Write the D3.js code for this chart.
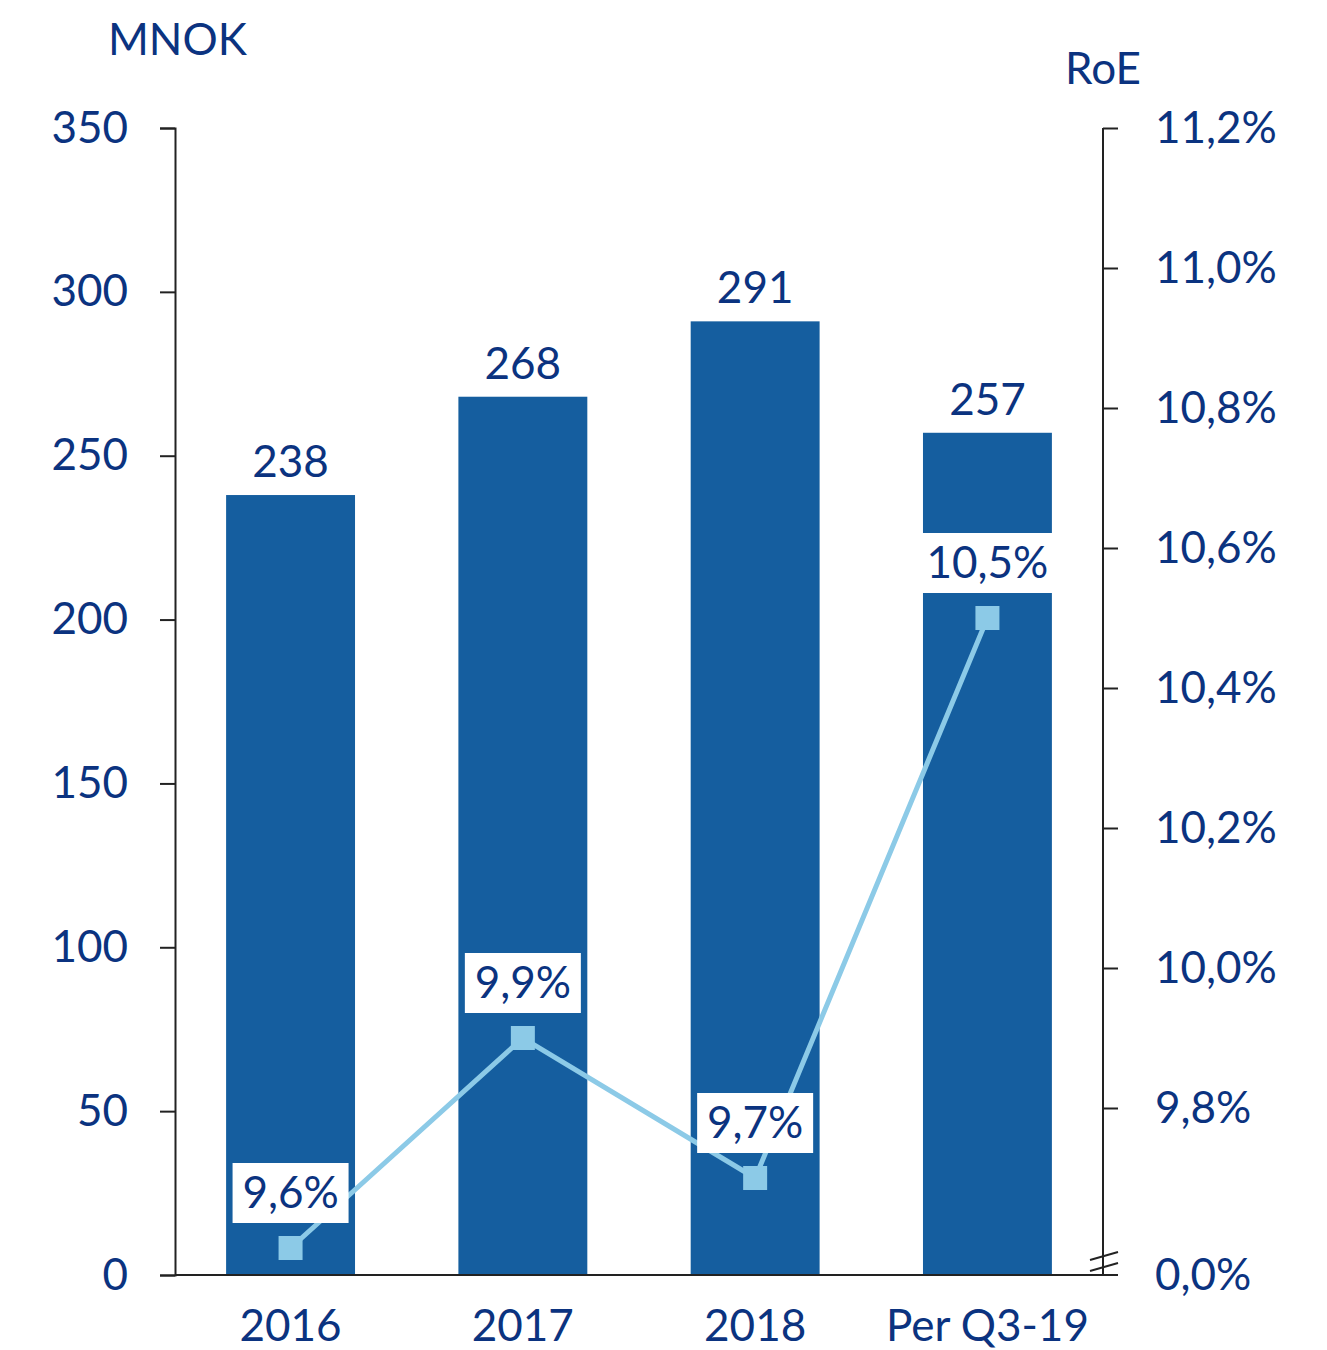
<!DOCTYPE html>
<html>
<head>
<meta charset="utf-8">
<script src="https://cdn.jsdelivr.net/npm/d3@7"></script>
<style>
  body { margin: 0; background: #fff; }
  text { font-family: Lato, "Open Sans", sans-serif; fill: #0b3380; }
</style>
</head>
<body>
<script>
// data
var categories = ["2016", "2017", "2018", "Per Q3-19"];
var profit = [238, 268, 291, 257];
var roe = [9.6, 9.9, 9.7, 10.5];
var roeLabels = ["9,6%", "9,9%", "9,7%", "10,5%"];
var leftTicks = [0, 50, 100, 150, 200, 250, 300, 350];
var rightTicks = [9.8, 10.0, 10.2, 10.4, 10.6, 10.8, 11.0, 11.2];

var fs = "44px";

var svg = d3.select("body").append("svg")
    .attr("width", 1327)
    .attr("height", 1350);

var plotLeft = 175, plotRight = 1103, plotTop = 128, plotBottom = 1275;

var x = d3.scaleBand().domain(categories).range([plotLeft, plotRight]).paddingInner(0.445).paddingOuter(0.22);
var y = d3.scaleLinear().domain([0, 350]).range([plotBottom, plotTop]);
// right axis: broken, 9.8..11.2 mapped linearly, 0,0% sits at the baseline
var yR = d3.scaleLinear().domain([9.8, 11.2]).range([1108, plotTop]);

// bars
svg.selectAll("rect.bar").data(profit).enter().append("rect")
    .attr("class", "bar")
    .attr("x", function(d, i) { return x(categories[i]); })
    .attr("y", function(d) { return y(d); })
    .attr("width", x.bandwidth())
    .attr("height", function(d) { return y(0) - y(d); })
    .attr("fill", "#155e9f");

// bar value labels
svg.selectAll("text.val").data(profit).enter().append("text")
    .attr("class", "val")
    .attr("x", function(d, i) { return x(categories[i]) + x.bandwidth() / 2; })
    .attr("y", function(d) { return y(d) - 18; })
    .attr("text-anchor", "middle")
    .attr("font-size", fs)
    .text(function(d) { return d; });

// left axis
var leftAxis = svg.append("g").attr("transform", "translate(" + plotLeft + ",0)")
    .call(d3.axisLeft(y).tickValues(leftTicks).tickSize(15).tickPadding(32).tickSizeOuter(15));
leftAxis.select(".domain").attr("stroke", "#222").attr("stroke-width", 2);
leftAxis.selectAll(".tick line").attr("stroke", "#222").attr("stroke-width", 2);
leftAxis.selectAll(".tick text").attr("font-size", fs).attr("font-family", "Lato, sans-serif").attr("fill", "#0b3380");

// right axis
var rightAxis = svg.append("g").attr("transform", "translate(" + plotRight + ",0)")
    .call(d3.axisRight(yR).tickValues(rightTicks).tickSize(15).tickPadding(37).tickSizeOuter(0)
        .tickFormat(function(d) { return d3.format(".1f")(d).replace(".", ",") + "%"; }));
rightAxis.select(".domain").remove();
rightAxis.selectAll(".tick line").attr("stroke", "#222").attr("stroke-width", 2);
rightAxis.selectAll(".tick text").attr("font-size", fs).attr("font-family", "Lato, sans-serif").attr("fill", "#0b3380");
svg.append("line").attr("x1", plotRight).attr("x2", plotRight).attr("y1", plotTop).attr("y2", plotBottom)
    .attr("stroke", "#222").attr("stroke-width", 2);

// baseline
svg.append("line").attr("x1", plotLeft).attr("x2", plotRight + 15).attr("y1", plotBottom).attr("y2", plotBottom)
    .attr("stroke", "#222").attr("stroke-width", 2);

// break marks on right axis
[1256, 1267].forEach(function(yy) {
    svg.append("line").attr("x1", plotRight - 13).attr("x2", plotRight + 15)
        .attr("y1", yy + 4).attr("y2", yy - 4)
        .attr("stroke", "#222").attr("stroke-width", 2);
});
svg.append("text").attr("x", plotRight + 52).attr("y", plotBottom + 15)
    .attr("font-size", fs).text("0,0%");

// x labels
svg.selectAll("text.cat").data(categories).enter().append("text")
    .attr("class", "cat")
    .attr("x", function(d) { return x(d) + x.bandwidth() / 2; })
    .attr("y", 1341)
    .attr("text-anchor", "middle")
    .attr("font-size", fs)
    .text(function(d) { return d; });

// axis titles
svg.append("text").attr("x", 108).attr("y", 55).attr("font-size", fs).text("MNOK");
svg.append("text").attr("x", 1065).attr("y", 84).attr("font-size", fs).text("RoE");

// RoE line
var cx = function(i) { return x(categories[i]) + x.bandwidth() / 2; };
var line = d3.line().x(function(d, i) { return cx(i); }).y(function(d) { return yR(d); });
svg.append("path").datum(roe).attr("d", line)
    .attr("fill", "none").attr("stroke", "#8ccae7").attr("stroke-width", 5);

svg.selectAll("rect.mark").data(roe).enter().append("rect")
    .attr("class", "mark")
    .attr("x", function(d, i) { return cx(i) - 12; })
    .attr("y", function(d) { return yR(d) - 12; })
    .attr("width", 24).attr("height", 24)
    .attr("fill", "#8ccae7");

// RoE labels with white boxes
var boxW = [116, 116, 116, 134];
svg.selectAll("rect.lbl").data(roe).enter().append("rect")
    .attr("class", "lbl")
    .attr("x", function(d, i) { return cx(i) - boxW[i] / 2; })
    .attr("y", function(d) { return yR(d) - 85; })
    .attr("width", function(d, i) { return boxW[i]; })
    .attr("height", 60)
    .attr("fill", "#fff");
svg.selectAll("text.roe").data(roe).enter().append("text")
    .attr("class", "roe")
    .attr("x", function(d, i) { return cx(i); })
    .attr("y", function(d) { return yR(d) - 40; })
    .attr("text-anchor", "middle")
    .attr("font-size", fs)
    .text(function(d, i) { return roeLabels[i]; });
</script>
</body>
</html>
